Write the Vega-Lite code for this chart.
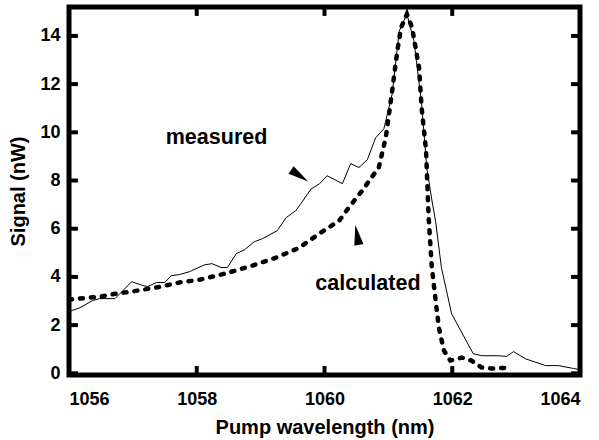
{
  "$schema": "https://vega.github.io/schema/vega-lite/v6.json",
  "width": 511,
  "height": 368,
  "autosize": {"type": "none"},
  "padding": {"left": 69, "top": 7, "right": 19, "bottom": 65},
  "background": "white",
  "config": {
    "view": {"stroke": "black", "strokeWidth": 5},
    "font": "Liberation Sans",
    "axis": {
      "grid": false,
      "domain": false,
      "ticks": false,
      "format": "d",
      "labelFont": "Liberation Sans",
      "labelFontWeight": "bold",
      "labelFontSize": 18,
      "labelColor": "black",
      "titleFont": "Liberation Sans",
      "titleFontWeight": "bold",
      "titleFontSize": 20,
      "titleColor": "black"
    }
  },
  "datasets": {
    "measured": [
      {"wl": 1056.0, "signal": 2.56}, {"wl": 1056.17, "signal": 2.72}, {"wl": 1056.37, "signal": 3.02},
      {"wl": 1056.48, "signal": 3.1}, {"wl": 1056.72, "signal": 3.1}, {"wl": 1056.98, "signal": 3.8},
      {"wl": 1057.16, "signal": 3.64}, {"wl": 1057.23, "signal": 3.6}, {"wl": 1057.37, "signal": 3.77},
      {"wl": 1057.5, "signal": 3.77}, {"wl": 1057.6, "signal": 4.05}, {"wl": 1057.73, "signal": 4.1},
      {"wl": 1057.89, "signal": 4.22}, {"wl": 1058.12, "signal": 4.5}, {"wl": 1058.24, "signal": 4.55},
      {"wl": 1058.38, "signal": 4.39}, {"wl": 1058.48, "signal": 4.39}, {"wl": 1058.62, "signal": 4.97},
      {"wl": 1058.75, "signal": 5.13}, {"wl": 1058.9, "signal": 5.46}, {"wl": 1059.03, "signal": 5.59},
      {"wl": 1059.26, "signal": 5.92}, {"wl": 1059.4, "signal": 6.46}, {"wl": 1059.55, "signal": 6.75},
      {"wl": 1059.62, "signal": 7.0}, {"wl": 1059.79, "signal": 7.65}, {"wl": 1059.92, "signal": 7.86},
      {"wl": 1060.04, "signal": 8.2}, {"wl": 1060.28, "signal": 7.87}, {"wl": 1060.41, "signal": 8.7},
      {"wl": 1060.54, "signal": 8.54}, {"wl": 1060.67, "signal": 8.86}, {"wl": 1060.8, "signal": 9.77},
      {"wl": 1060.93, "signal": 10.15}, {"wl": 1061.06, "signal": 11.6}, {"wl": 1061.17, "signal": 14.2},
      {"wl": 1061.29, "signal": 14.9}, {"wl": 1061.4, "signal": 13.8}, {"wl": 1061.52, "signal": 11.2},
      {"wl": 1061.6, "signal": 8.55}, {"wl": 1061.68, "signal": 7.2}, {"wl": 1061.74, "signal": 6.3},
      {"wl": 1061.83, "signal": 4.39}, {"wl": 1061.99, "signal": 2.47}, {"wl": 1062.2, "signal": 1.44},
      {"wl": 1062.33, "signal": 0.81}, {"wl": 1062.46, "signal": 0.73}, {"wl": 1062.72, "signal": 0.73},
      {"wl": 1062.85, "signal": 0.7}, {"wl": 1062.96, "signal": 0.9}, {"wl": 1063.15, "signal": 0.6},
      {"wl": 1063.46, "signal": 0.32}, {"wl": 1063.66, "signal": 0.32}, {"wl": 1063.9, "signal": 0.2},
      {"wl": 1064.0, "signal": 0.15}
    ],
    "calculated": [
      {"wl": 1056.0, "signal": 3.06}, {"wl": 1056.48, "signal": 3.18}, {"wl": 1056.72, "signal": 3.3},
      {"wl": 1057.0, "signal": 3.4}, {"wl": 1057.37, "signal": 3.56}, {"wl": 1057.73, "signal": 3.77},
      {"wl": 1058.04, "signal": 3.88}, {"wl": 1058.46, "signal": 4.15}, {"wl": 1058.87, "signal": 4.47},
      {"wl": 1059.24, "signal": 4.8}, {"wl": 1059.6, "signal": 5.2}, {"wl": 1059.92, "signal": 5.8},
      {"wl": 1060.23, "signal": 6.33}, {"wl": 1060.38, "signal": 6.88}, {"wl": 1060.59, "signal": 7.58},
      {"wl": 1060.85, "signal": 8.54}, {"wl": 1060.96, "signal": 9.79}, {"wl": 1061.06, "signal": 11.73},
      {"wl": 1061.14, "signal": 13.39}, {"wl": 1061.2, "signal": 14.35}, {"wl": 1061.29, "signal": 14.9},
      {"wl": 1061.37, "signal": 14.35}, {"wl": 1061.48, "signal": 12.7}, {"wl": 1061.52, "signal": 11.03},
      {"wl": 1061.59, "signal": 9.24}, {"wl": 1061.63, "signal": 6.5}, {"wl": 1061.68, "signal": 4.39},
      {"wl": 1061.74, "signal": 3.02}, {"wl": 1061.79, "signal": 1.9}, {"wl": 1061.87, "signal": 0.94},
      {"wl": 1061.97, "signal": 0.53}, {"wl": 1062.15, "signal": 0.65}, {"wl": 1062.3, "signal": 0.53},
      {"wl": 1062.46, "signal": 0.24}, {"wl": 1062.61, "signal": 0.2}, {"wl": 1062.93, "signal": 0.24}
    ],
    "labels": [
      {"wl": 1058.31, "signal": 9.78, "text": "measured"},
      {"wl": 1060.68, "signal": 3.72, "text": "calculated"}
    ],
    "arrows": [
      {"wl": 1059.61, "signal": 8.2, "angle": 124},
      {"wl": 1060.51, "signal": 5.75, "angle": 350}
    ],
    "xticks": [{"wl": 1056}, {"wl": 1058}, {"wl": 1060}, {"wl": 1062}, {"wl": 1064}],
    "yticks": [{"signal": 0}, {"signal": 2}, {"signal": 4}, {"signal": 6}, {"signal": 8}, {"signal": 10}, {"signal": 12}, {"signal": 14}]
  },
  "layer": [
    {
      "data": {"name": "measured"},
      "mark": {"type": "line", "color": "black", "strokeWidth": 1, "clip": true},
      "encoding": {
        "x": {"field": "wl", "type": "quantitative", "title": "Pump wavelength (nm)",
              "scale": {"domain": [1056, 1064], "nice": false},
              "axis": {"orient": "bottom", "values": [1056, 1058, 1060, 1062, 1064], "labelPadding": 15, "titlePadding": 9}},
        "y": {"field": "signal", "type": "quantitative", "title": "Signal (nW)",
              "scale": {"domain": [-0.07, 15.2], "nice": false, "zero": false},
              "axis": {"orient": "left", "values": [0, 2, 4, 6, 8, 10, 12, 14], "labelPadding": 9, "titlePadding": 11}}
      }
    },
    {
      "data": {"name": "calculated"},
      "mark": {"type": "line", "color": "black", "strokeWidth": 4.5, "strokeDash": [3, 8], "strokeCap": "round", "clip": true},
      "encoding": {
        "x": {"field": "wl", "type": "quantitative"},
        "y": {"field": "signal", "type": "quantitative"}
      }
    },
    {
      "data": {"name": "xticks"},
      "mark": {"type": "rule", "color": "black", "strokeWidth": 4},
      "encoding": {
        "x": {"field": "wl", "type": "quantitative"},
        "y": {"datum": -0.07},
        "y2": {"datum": 0.3}
      }
    },
    {
      "data": {"name": "xticks"},
      "mark": {"type": "rule", "color": "black", "strokeWidth": 4},
      "encoding": {
        "x": {"field": "wl", "type": "quantitative"},
        "y": {"datum": 15.2},
        "y2": {"datum": 14.83}
      }
    },
    {
      "data": {"name": "yticks"},
      "mark": {"type": "rule", "color": "black", "strokeWidth": 4},
      "encoding": {
        "y": {"field": "signal", "type": "quantitative"},
        "x": {"datum": 1056},
        "x2": {"datum": 1056.14}
      }
    },
    {
      "data": {"name": "yticks"},
      "mark": {"type": "rule", "color": "black", "strokeWidth": 4},
      "encoding": {
        "y": {"field": "signal", "type": "quantitative"},
        "x": {"datum": 1064},
        "x2": {"datum": 1063.86}
      }
    },
    {
      "data": {"name": "labels"},
      "mark": {"type": "text", "font": "Liberation Sans", "fontWeight": "bold", "fontSize": 21.5, "color": "black"},
      "encoding": {
        "x": {"field": "wl", "type": "quantitative"},
        "y": {"field": "signal", "type": "quantitative"},
        "text": {"field": "text"}
      }
    },
    {
      "data": {"name": "arrows"},
      "mark": {"type": "point", "shape": "M0,-1L0.45,1L-0.45,1Z", "filled": true, "color": "black", "size": 420, "opacity": 1, "strokeWidth": 0},
      "encoding": {
        "x": {"field": "wl", "type": "quantitative"},
        "y": {"field": "signal", "type": "quantitative"},
        "angle": {"field": "angle", "type": "quantitative", "scale": null}
      }
    }
  ]
}
